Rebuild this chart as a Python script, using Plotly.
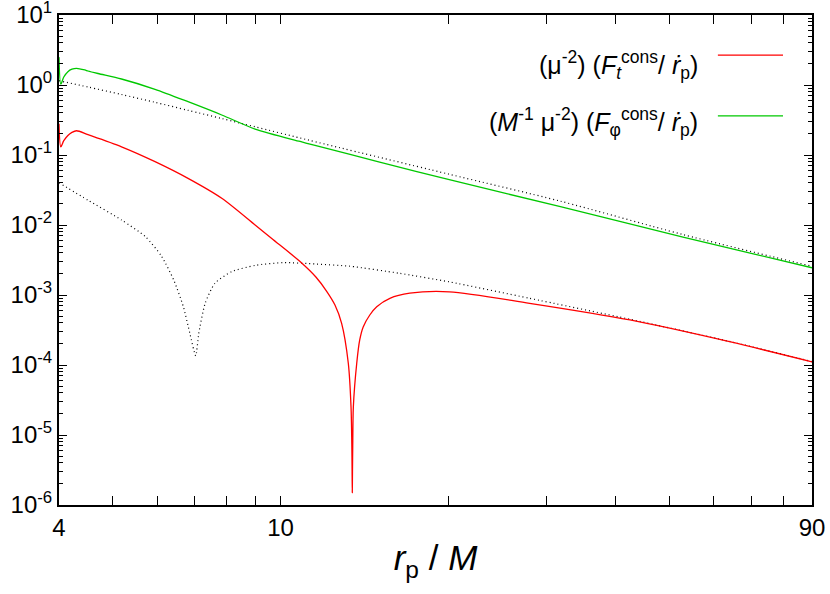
import plotly.graph_objects as go

# ---- data ----
# (M^-1 mu^-2)(F_phi^cons / rdot_p)  -- green
r_phi = [4.0, 4.03, 4.08, 4.15, 4.22, 4.30, 4.45, 4.51, 4.7, 5.18, 5.95, 6.82, 7.84, 9.0,
         10.84, 11.53, 15.0, 20.0, 31.8, 52.8, 90.0]
f_phi = [2.5, 1.03, 1.3, 1.55, 1.68, 1.73, 1.64, 1.585, 1.46, 1.218, 0.868, 0.577, 0.373, 0.235,
         0.156, 0.137, 0.080, 0.0447, 0.0183, 0.00669, 0.00245]

# dotted comparison curve for F_phi
r_phi_ref = [4.0, 4.51, 5.18, 5.95, 6.82, 7.84, 9.0, 10.84, 11.53, 20.0, 31.8, 52.8, 90.0]
f_phi_ref = [1.152, 0.936, 0.732, 0.566, 0.435, 0.332, 0.253, 0.175, 0.155, 0.0535, 0.0219,
             0.0073, 0.00257]

# (mu^-2)(F_t^cons / rdot_p)  -- red
r_t = [4.0, 4.03, 4.08, 4.15, 4.22, 4.30, 4.51, 5.18, 5.95, 6.82, 7.84, 9.0, 9.64, 10.91, 11.57,
       12.09, 12.52, 12.87, 13.23, 13.38, 13.425, 13.44, 13.45, 13.46, 13.475, 13.51, 13.70, 13.87,
       14.07, 14.46, 14.88, 15.71, 17.06, 20.1, 28.0, 42.4, 64.0, 90.0]
f_t = [0.28, 0.131, 0.16, 0.19, 0.21, 0.222, 0.195, 0.131, 0.0804, 0.0464, 0.0241, 0.0100, 0.00641,
       0.00287, 0.00181, 0.00114, 7.2e-4, 3.94e-4, 1.06e-4, 2.54e-5, 7e-6, 3e-6, 1.5e-6, 3e-6, 7e-6,
       2.54e-5, 1.06e-4, 2.28e-4, 3.5e-4, 5.18e-4, 6.8e-4, 8.97e-4, 1.06e-3, 1.11e-3, 7.6e-4,
       4.4e-4, 2.15e-4, 1.11e-4]

# dotted comparison curve for F_t
r_t_ref = [4.0, 4.51, 5.18, 5.72, 6.11, 6.43, 6.69, 6.87, 7.04, 7.13, 7.32, 7.62, 8.17, 9.0,
           10.12, 11.6, 13.3, 16.36, 20.1, 28.0, 42.4, 64.0, 90.0]
f_t_ref = [0.0401, 0.0226, 0.0118, 6.8e-3, 3.6e-3, 1.63e-3, 6.8e-4, 2.85e-4, 1.35e-4, 2.85e-4,
           7.6e-4, 1.47e-3, 2.16e-3, 2.65e-3, 2.9e-3, 2.77e-3, 2.58e-3, 2.04e-3, 1.54e-3,
           8.97e-4, 4.5e-4, 2.17e-4, 1.12e-4]

x_major = [4, 10, 90]
x_major_text = ["4", "10", "90"]
x_minor = [5, 6, 7, 8, 9, 20, 30, 40, 50, 60, 70, 80]
y_exps = [-6, -5, -4, -3, -2, -1, 0, 1]

legend_labels = [
    "(μ<sup>-2</sup>) (<i>F<sub>t</sub></i><sup>cons</sup>/ <i>ṙ</i><sub>p</sub>)",
    "(<i>M</i><sup>-1</sup> μ<sup>-2</sup>) (<i>F</i><sub>φ</sub><sup>cons</sup>/ <i>ṙ</i><sub>p</sub>)",
]

RED = "#ff0000"
GREEN = "#00c800"
FONT = "Liberation Sans, Arial, sans-serif"

fig = go.Figure()
fig.add_trace(go.Scatter(x=r_phi_ref, y=f_phi_ref, mode="lines",
                         line=dict(color="black", width=1.2, dash="1px,3px",
                                   shape="spline", smoothing=0.8), showlegend=False))
fig.add_trace(go.Scatter(x=r_t_ref, y=f_t_ref, mode="lines",
                         line=dict(color="black", width=1.2, dash="1px,3px",
                                   shape="spline", smoothing=0.6), showlegend=False))
fig.add_trace(go.Scatter(x=r_t, y=f_t, mode="lines",
                         line=dict(color=RED, width=1.3, shape="spline", smoothing=0.8),
                         showlegend=False))
fig.add_trace(go.Scatter(x=r_phi, y=f_phi, mode="lines",
                         line=dict(color=GREEN, width=1.3, shape="spline", smoothing=0.8),
                         showlegend=False))

y_minor = [k * 10.0 ** e for e in y_exps[:-1] for k in range(2, 10)]

fig.update_layout(
    width=830, height=594,
    margin=dict(l=59, r=18, t=15, b=89),
    paper_bgcolor="white", plot_bgcolor="white",
    font=dict(family=FONT, size=24, color="black"),
    xaxis=dict(
        type="log", range=[0.60206, 1.95424], automargin=False,
        tickmode="array", tickvals=x_major, ticktext=x_major_text,
        ticks="inside", ticklen=9, tickwidth=1, tickcolor="black",
        minor=dict(tickmode="array", tickvals=x_minor, ticks="inside", ticklen=9,
                   tickwidth=1, tickcolor="black", showgrid=False),
        showline=True, linecolor="black", linewidth=2, mirror="allticks",
        showgrid=False, zeroline=False, ticklabeloverflow="allow",
        tickfont=dict(size=24),
        title=dict(text="<i>r</i><sub>p</sub> / <i>M</i>", font=dict(size=35), standoff=6),
    ),
    yaxis=dict(
        type="log", range=[-6, 1], automargin=False,
        tickmode="array", tickvals=[10.0 ** e for e in y_exps],
        ticktext=[f"10<sup>{e}</sup>" for e in y_exps],
        ticks="inside", ticklen=8, tickwidth=1, tickcolor="black",
        minor=dict(tickmode="array", tickvals=y_minor, ticks="inside", ticklen=4,
                   tickwidth=1, tickcolor="black", showgrid=False),
        showline=True, linecolor="black", linewidth=2, mirror="allticks",
        showgrid=False, zeroline=False, ticklabeloverflow="allow",
        tickfont=dict(size=24),
    ),
)

# legend drawn as text on the left with sample lines on the right (gnuplot style)
leg_y_text = [0.898, 0.782]
leg_y_line = [0.918, 0.794]
leg_colors = [RED, GREEN]
for lab, yt, yl, c in zip(legend_labels, leg_y_text, leg_y_line, leg_colors):
    fig.add_annotation(text=lab, xref="paper", yref="paper", x=0.851, y=yt,
                       xanchor="right", yanchor="middle", showarrow=False,
                       font=dict(size=25, family=FONT, color="black"))
    fig.add_shape(type="line", xref="paper", yref="paper", x0=0.875, x1=0.9615,
                  y0=yl, y1=yl, line=dict(color=c, width=1.3))

# remove the browser's default 8px page margin so the figure sits at the window origin
fig.write_html("out.html", config={"displayModeBar": False},
               post_script="document.body.style.margin='0';document.body.style.overflow='hidden';")
